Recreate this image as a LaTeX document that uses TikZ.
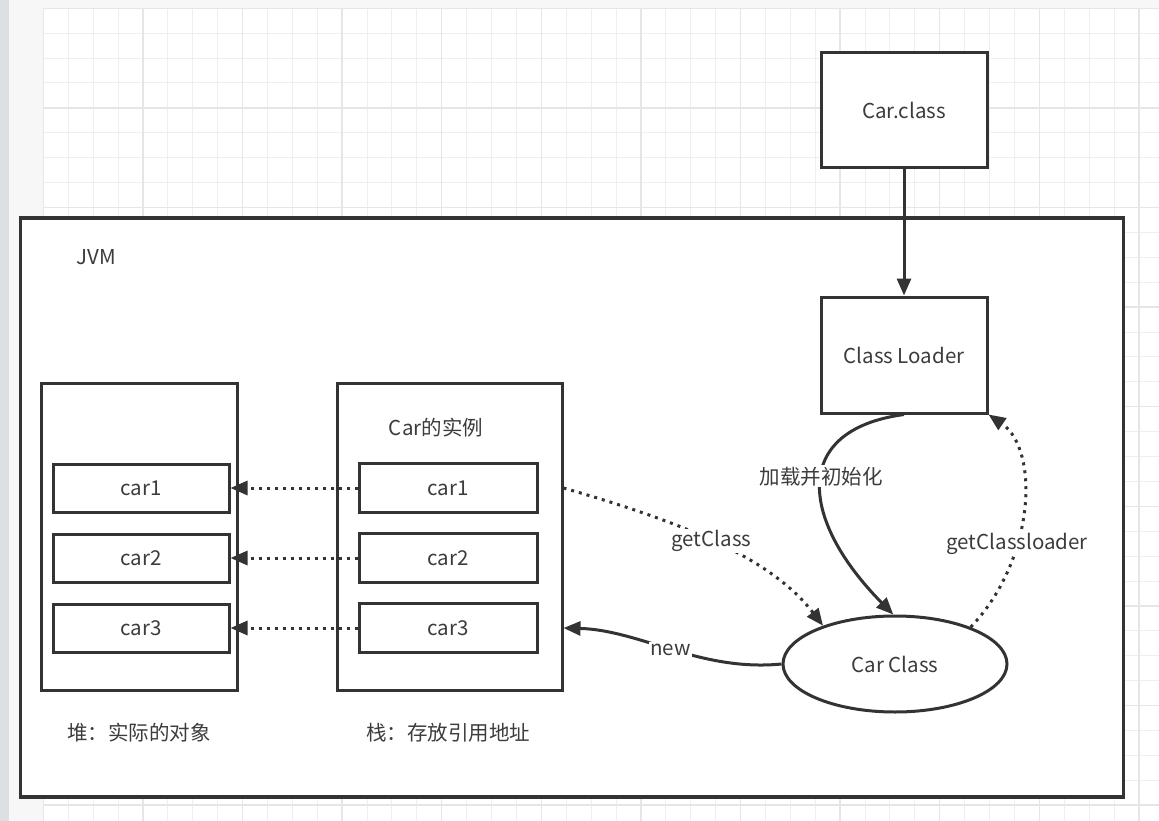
\documentclass[tikz,border=0pt]{standalone}
\usepackage{fontspec}
\setmainfont{Noto Sans CJK SC}
\usetikzlibrary{arrows.meta,shapes.geometric}
\definecolor{ln}{HTML}{333333}
\definecolor{tx}{HTML}{3c3c3c}
\definecolor{gridminor}{HTML}{EFEFEF}
\definecolor{gridmajor}{HTML}{E6E6E6}
\definecolor{sidebar}{HTML}{DCDFE3}
\definecolor{margin}{HTML}{F7F7F7}
\begin{document}
\begin{tikzpicture}[x=1pt,y=-1pt,
  txt/.style={text=tx,font=\fontsize{20.5}{24}\selectfont},
  box/.style={draw=ln,line width=3pt,fill=white,inner sep=0pt,txt},
  lbl/.style={fill=white,inner sep=1.5pt,txt},
  conn/.style={draw=ln,line width=3pt,-{Triangle[length=17pt,width=14pt]}},
  dots/.style={conn,dash pattern=on 3pt off 5pt}]
\useasboundingbox (0,0) rectangle (1159,821);
% page background
\fill[margin] (0,0) rectangle (1159,821);
\fill[sidebar] (0,0) rectangle (9,821);
\fill[white] (43,8) rectangle (1159,821);
\foreach \i in {0,...,45} {
  \draw[gridminor,line width=1pt] (43.3+24.9*\i,8) -- (43.3+24.9*\i,821);
}
\foreach \i in {0,...,32} {
  \draw[gridminor,line width=1pt] (43,8.3+24.9*\i) -- (1159,8.3+24.9*\i);
}
\foreach \i in {0,...,11} {
  \draw[gridmajor,line width=1.3pt] (43.3+99.6*\i,8) -- (43.3+99.6*\i,821);
}
\foreach \i in {0,...,8} {
  \draw[gridmajor,line width=1.3pt] (43,8.3+99.6*\i) -- (1159,8.3+99.6*\i);
}
% JVM container
\node[box,line width=3.2pt,minimum width=1103pt,minimum height=579pt] (jvm) at (572,507.5) {};
\node[txt] (jvml) at (96,257) {JVM};
% top boxes
\node[box,minimum width=166pt,minimum height=115pt] (cc) at (904,110) {Car.class};
\node[box,minimum width=166pt,minimum height=116pt] (cl) at (904,355) {Class Loader};
% heap
\node[box,minimum width=196pt,minimum height=307pt] (hp) at (139,536.5) {};
\node[box,minimum width=176pt,minimum height=48pt] (h1) at (141,488) {car1};
\node[box,minimum width=176pt,minimum height=48pt] (h2) at (141,558) {car2};
\node[box,minimum width=176pt,minimum height=48pt] (h3) at (141,628) {car3};
% stack
\node[box,minimum width=225pt,minimum height=307pt] (st) at (449.5,536.5) {};
\node[txt] (stl) at (436,428) {Car的实例};
\node[box,minimum width=178pt,minimum height=49pt] (s1) at (448,488) {car1};
\node[box,minimum width=178pt,minimum height=49pt] (s2) at (448,558) {car2};
\node[box,minimum width=178pt,minimum height=49pt] (s3) at (448,628) {car3};
% captions
\node[txt] (hpcap) at (139,733) {堆：实际的对象};
\node[txt] (stcap) at (448,733) {栈：存放引用地址};
% Car Class ellipse
\node[box,ellipse,minimum width=224pt,minimum height=96pt] (ccls) at (895,664) {Car Class};
% connectors
\draw[conn] (cc) -- (cl);
\draw[dots] (s1) -- (h1);
\draw[dots] (s2) -- (h2);
\draw[dots] (s3) -- (h3);
\coordinate (gcs) at (st.east |- s1.east);
\coordinate (nwe) at (st.east |- s3.east);
\draw[dots] (gcs) .. controls (685,523) and (771,558) .. node[lbl,pos=0.47] {getClass} (ccls.152);
\draw[conn] (ccls.west) .. controls (700,672) and (640,630) .. node[lbl,pos=0.5] {new} (nwe);
\draw[conn] (cl.south) .. controls (790,430) and (800,520) .. node[lbl,pos=0.46] {加载并初始化} (ccls.92);
\draw[dots] (ccls.26) .. controls (1035,560) and (1040,450) .. node[lbl,pos=0.36] {getClassloader} (cl.south east);
\end{tikzpicture}
\end{document}
